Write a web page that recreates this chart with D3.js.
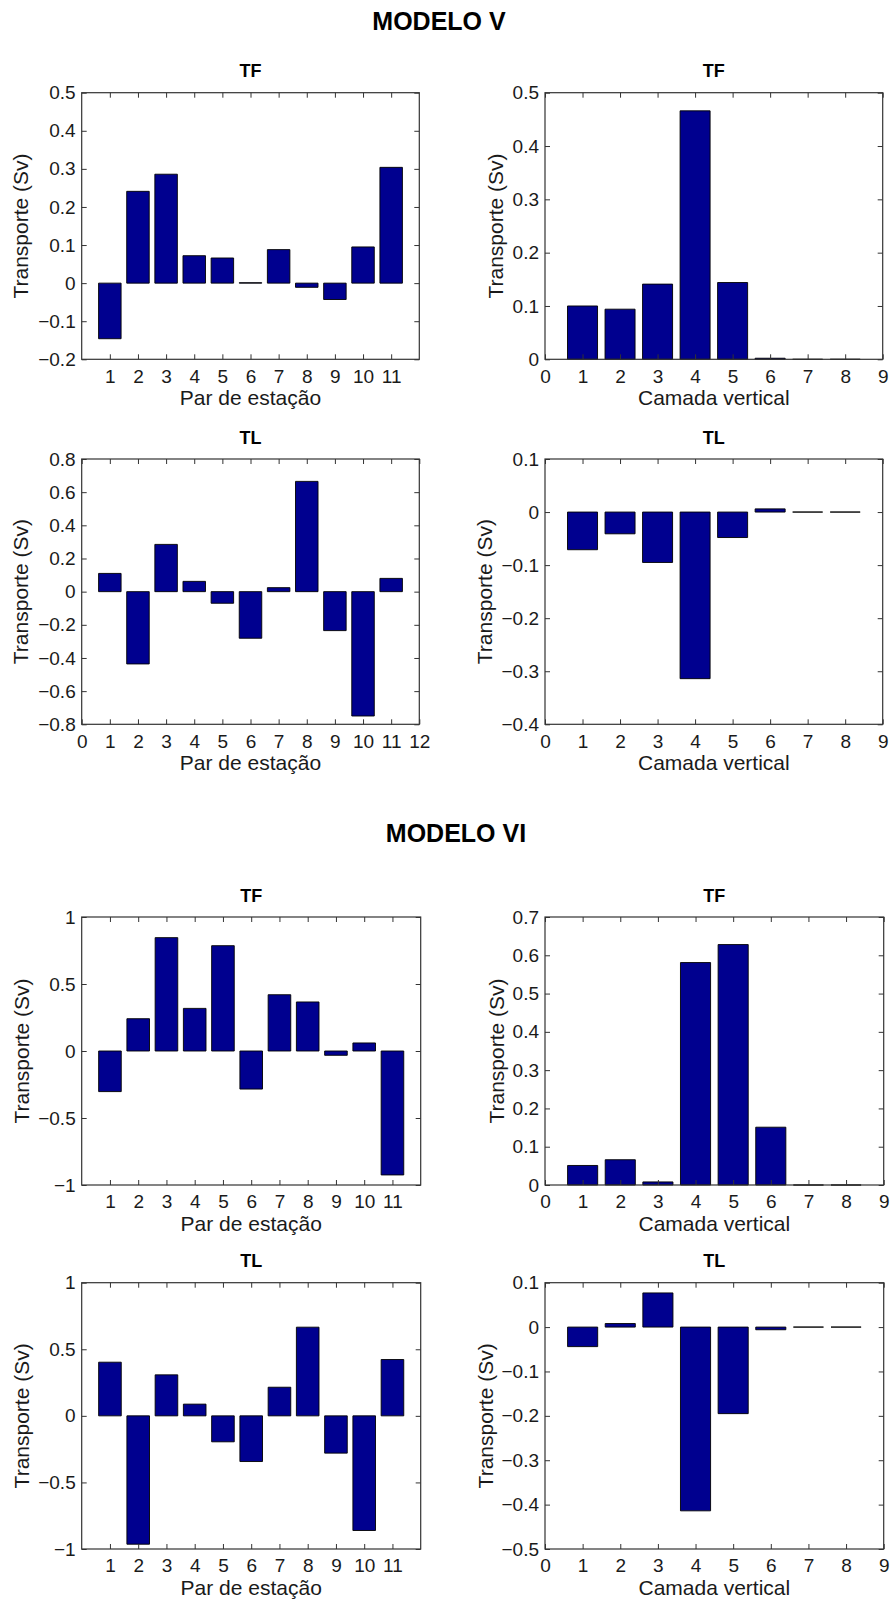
<!DOCTYPE html>
<html>
<head>
<meta charset="utf-8">
<script src="https://cdn.jsdelivr.net/npm/d3@7"></script>
<style>
  body { margin: 0; background: #fff; }
  svg { display: block; }
</style>
</head>
<body>
<svg id="fig" width="891" height="1601"></svg>
<script>
// ---- categories ----
const stationPairs   = [1, 2, 3, 4, 5, 6, 7, 8, 9, 10, 11];
const verticalLayers = [1, 2, 3, 4, 5, 6, 7, 8];

// ---- transport (Sv), MODELO V ----
const modelV_TF_pairs  = [-0.146, 0.241, 0.286, 0.072, 0.066, 0.001, 0.088, -0.011, -0.043, 0.095, 0.304];
const modelV_TF_layers = [0.100, 0.094, 0.141, 0.466, 0.144, 0.002, 0, 0];
const modelV_TL_pairs  = [0.110, -0.436, 0.285, 0.062, -0.070, -0.281, 0.024, 0.665, -0.235, -0.750, 0.080];
const modelV_TL_layers = [-0.071, -0.041, -0.095, -0.314, -0.048, 0.006, 0, 0];

// ---- transport (Sv), MODELO VI ----
const modelVI_TF_pairs  = [-0.303, 0.241, 0.846, 0.318, 0.786, -0.284, 0.420, 0.366, -0.032, 0.060, -0.925];
const modelVI_TF_layers = [0.051, 0.066, 0.008, 0.581, 0.628, 0.151, 0, 0];
const modelVI_TL_pairs  = [0.403, -0.964, 0.308, 0.088, -0.195, -0.343, 0.215, 0.666, -0.280, -0.861, 0.423];
const modelVI_TL_layers = [-0.044, 0.008, 0.077, -0.414, -0.195, -0.006, 0, 0];

// ---- tick values ----
const xTicksPairs     = [1, 2, 3, 4, 5, 6, 7, 8, 9, 10, 11];
const xTicksPairsFull = [0, 1, 2, 3, 4, 5, 6, 7, 8, 9, 10, 11, 12];
const xTicksLayers    = [0, 1, 2, 3, 4, 5, 6, 7, 8, 9];
const yTicksV_TF_pairs  = [-0.2, -0.1, 0, 0.1, 0.2, 0.3, 0.4, 0.5];
const yTicksV_TF_layers = [0, 0.1, 0.2, 0.3, 0.4, 0.5];
const yTicksV_TL_pairs  = [-0.8, -0.6, -0.4, -0.2, 0, 0.2, 0.4, 0.6, 0.8];
const yTicksV_TL_layers = [-0.4, -0.3, -0.2, -0.1, 0, 0.1];
const yTicksVI_TF_pairs  = [-1, -0.5, 0, 0.5, 1];
const yTicksVI_TF_layers = [0, 0.1, 0.2, 0.3, 0.4, 0.5, 0.6, 0.7];
const yTicksVI_TL_pairs  = [-1, -0.5, 0, 0.5, 1];
const yTicksVI_TL_layers = [-0.5, -0.4, -0.3, -0.2, -0.1, 0, 0.1];

// ---- text ----
const modelTitles = ["MODELO V", "MODELO VI"];
const panelTitles = ["TF", "TL"];
const xLabelPairs  = "Par de estação";
const xLabelLayers = "Camada vertical";
const yLabel = "Transporte (Sv)";

// ---- styling / layout ----
const FONT = '"Liberation Sans", Arial, Helvetica, sans-serif';
const TEXT = "#1a1a1a";
const AXIS = "#333";
const BAR_FILL = "#00008f";
const BAR_EDGE = "#000";
const TICK_FS = 19, LABEL_FS = 21, TITLE_FS = 18, MODEL_FS = 25;
const TICK_LEN = 5;
const BAR_WIDTH = 0.8;

const svg = d3.select("#fig");

const fmt = d => (d < 0 ? "\u2212" : "") + String(Math.abs(d));

const panels = [
  { title: panelTitles[0], cats: stationPairs, values: modelV_TF_pairs, xDomain: [0, 12], xTicks: xTicksPairs,
    yDomain: [-0.2, 0.5], yTicks: yTicksV_TF_pairs, xLabel: xLabelPairs, box: [81.7, 419.3, 92.7, 359.3], ylOff: 54 },
  { title: panelTitles[0], cats: verticalLayers, values: modelV_TF_layers, xDomain: [0, 9], xTicks: xTicksLayers,
    yDomain: [0, 0.5], yTicks: yTicksV_TF_layers, xLabel: xLabelLayers, box: [545, 882.7, 92.7, 359.3], ylOff: 42 },
  { title: panelTitles[1], cats: stationPairs, values: modelV_TL_pairs, xDomain: [0, 12], xTicks: xTicksPairsFull,
    yDomain: [-0.8, 0.8], yTicks: yTicksV_TL_pairs, xLabel: xLabelPairs, box: [81.7, 419.3, 459, 724.3], ylOff: 54 },
  { title: panelTitles[1], cats: verticalLayers, values: modelV_TL_layers, xDomain: [0, 9], xTicks: xTicksLayers,
    yDomain: [-0.4, 0.1], yTicks: yTicksV_TL_layers, xLabel: xLabelLayers, box: [545, 882.7, 459, 724.3], ylOff: 53 },
  { title: panelTitles[0], cats: stationPairs, values: modelVI_TF_pairs, xDomain: [0, 12], xTicks: xTicksPairs,
    yDomain: [-1, 1], yTicks: yTicksVI_TF_pairs, xLabel: xLabelPairs, box: [81.7, 420.7, 917, 1185], ylOff: 53 },
  { title: panelTitles[0], cats: verticalLayers, values: modelVI_TF_layers, xDomain: [0, 9], xTicks: xTicksLayers,
    yDomain: [0, 0.7], yTicks: yTicksVI_TF_layers, xLabel: xLabelLayers, box: [545, 883.7, 917, 1185], ylOff: 41 },
  { title: panelTitles[1], cats: stationPairs, values: modelVI_TL_pairs, xDomain: [0, 12], xTicks: xTicksPairs,
    yDomain: [-1, 1], yTicks: yTicksVI_TL_pairs, xLabel: xLabelPairs, box: [81.7, 420.7, 1282.7, 1549], ylOff: 53 },
  { title: panelTitles[1], cats: verticalLayers, values: modelVI_TL_layers, xDomain: [0, 9], xTicks: xTicksLayers,
    yDomain: [-0.5, 0.1], yTicks: yTicksVI_TL_layers, xLabel: xLabelLayers, box: [545, 883.7, 1282.7, 1549], ylOff: 52 }
];

// model headings
svg.append("text").attr("x", 439).attr("y", 29.5).attr("text-anchor", "middle")
  .attr("font-family", FONT).attr("font-weight", "bold").attr("font-size", MODEL_FS).attr("fill", "#000")
  .text(modelTitles[0]);
svg.append("text").attr("x", 456).attr("y", 841.5).attr("text-anchor", "middle")
  .attr("font-family", FONT).attr("font-weight", "bold").attr("font-size", MODEL_FS).attr("fill", "#000")
  .text(modelTitles[1]);

function styleAxis(g, fs) {
  g.attr("font-family", FONT).attr("font-size", fs).attr("color", AXIS);
  g.select(".domain").remove();
  g.selectAll(".tick line").attr("stroke-width", 1);
  g.selectAll(".tick text").attr("fill", TEXT);
}

panels.forEach(p => {
  const [x0, x1, y0, y1] = p.box;
  const x = d3.scaleLinear().domain(p.xDomain).range([x0, x1]);
  const y = d3.scaleLinear().domain(p.yDomain).range([y1, y0]);
  const g = svg.append("g");

  // bars (path so that zero-height bars still show their edge)
  g.append("g").selectAll("path").data(p.cats.map((c, i) => ({ c, v: p.values[i] }))).join("path")
    .attr("d", d => {
      const xa = x(d.c - BAR_WIDTH / 2), xb = x(d.c + BAR_WIDTH / 2);
      const ya = y(0), yb = y(d.v);
      return `M${xa},${ya}H${xb}V${yb}H${xa}Z`;
    })
    .attr("fill", BAR_FILL).attr("stroke", BAR_EDGE).attr("stroke-width", 0.9);

  // ticks, inward on all four sides
  g.append("g").attr("transform", `translate(0,${y1})`)
    .call(d3.axisBottom(x).tickValues(p.xTicks).tickSizeInner(-TICK_LEN).tickSizeOuter(0).tickPadding(10).tickFormat(fmt))
    .call(a => styleAxis(a, TICK_FS));
  g.append("g").attr("transform", `translate(0,${y0})`)
    .call(d3.axisTop(x).tickValues(p.xTicks).tickSizeInner(-TICK_LEN).tickSizeOuter(0).tickFormat(""))
    .call(a => styleAxis(a, TICK_FS));
  g.append("g").attr("transform", `translate(${x0},0)`)
    .call(d3.axisLeft(y).tickValues(p.yTicks).tickSizeInner(-TICK_LEN).tickSizeOuter(0).tickPadding(6).tickFormat(fmt))
    .call(a => styleAxis(a, TICK_FS));
  g.append("g").attr("transform", `translate(${x1},0)`)
    .call(d3.axisRight(y).tickValues(p.yTicks).tickSizeInner(-TICK_LEN).tickSizeOuter(0).tickFormat(""))
    .call(a => styleAxis(a, TICK_FS));

  // axes box
  g.append("rect").attr("x", x0).attr("y", y0).attr("width", x1 - x0).attr("height", y1 - y0)
    .attr("fill", "none").attr("stroke", AXIS).attr("stroke-width", 1.2);

  // panel title
  g.append("text").attr("x", (x0 + x1) / 2).attr("y", y0 - 15.5).attr("text-anchor", "middle")
    .attr("font-family", FONT).attr("font-weight", "bold").attr("font-size", TITLE_FS).attr("fill", "#000")
    .text(p.title);

  // x label
  g.append("text").attr("x", (x0 + x1) / 2).attr("y", y1 + 46).attr("text-anchor", "middle")
    .attr("font-family", FONT).attr("font-size", LABEL_FS).attr("fill", TEXT)
    .text(p.xLabel);

  // y label
  const yc = (y0 + y1) / 2, xl = x0 - p.ylOff;
  g.append("text").attr("transform", `translate(${xl},${yc}) rotate(-90)`).attr("text-anchor", "middle")
    .attr("font-family", FONT).attr("font-size", LABEL_FS).attr("fill", TEXT)
    .text(yLabel);
});
</script>
</body>
</html>
